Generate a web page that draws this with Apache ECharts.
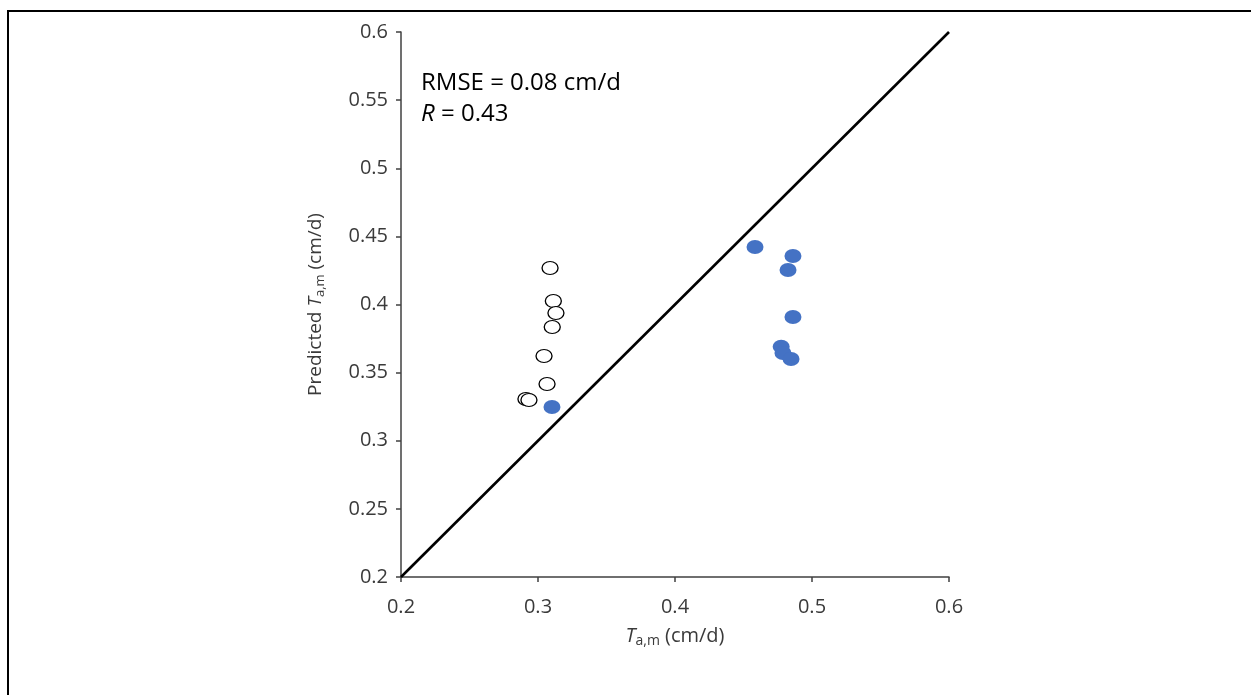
<!DOCTYPE html>
<html><head><meta charset="utf-8">
<script src="https://cdn.jsdelivr.net/npm/echarts@6/dist/echarts.min.js"></script>
<style>html,body{margin:0;padding:0;background:#fff}#c{width:1251px;height:695px}</style>
</head><body><div id="c"></div>
<script>
// Observed (open circles)
const openX = [0.3088, 0.3112, 0.3131, 0.3104, 0.3044, 0.3066, 0.2912, 0.2934];
const openY = [0.4268, 0.4026, 0.3938, 0.3835, 0.3622, 0.3416, 0.3306, 0.3299];
// Filled blue points
const fillX = [0.3102, 0.4584, 0.4861, 0.4825, 0.4861, 0.4775, 0.4788, 0.4847];
const fillY = [0.3248, 0.4422, 0.4356, 0.4253, 0.3908, 0.3690, 0.3644, 0.3600];
const lineXY = [[0.2, 0.2], [0.6, 0.6]];
const statsText = ['RMSE = 0.08 cm/d', '0.43'];

const FONT = 'Open Sans';
const chart = echarts.init(document.getElementById('c'), null, {renderer: 'canvas'});
const axisCol = '#404040';
const txtCol = '#3a3a3a';
function nameRich(fs) {
  return {
    it: {fontSize: fs, fontStyle: 'italic', color: txtCol, fontFamily: FONT},
    sub: {fontSize: Math.round(fs * 0.68), color: txtCol, fontFamily: FONT, verticalAlign: 'bottom', padding: [9, 0, 0, 0]},
    n: {fontSize: fs, color: txtCol, fontFamily: FONT}
  };
}
chart.setOption({
  animation: false,
  backgroundColor: '#fff',
  textStyle: {fontFamily: FONT},
  grid: {left: 401, top: 32, width: 548, height: 545, containLabel: false},
  xAxis: {
    type: 'value', min: 0.2, max: 0.6, interval: 0.1,
    splitLine: {show: false},
    axisLine: {lineStyle: {color: axisCol, width: 1.5}},
    axisTick: {show: true, length: 5, lineStyle: {color: axisCol, width: 1.5}},
    axisLabel: {fontSize: 20, color: txtCol, margin: 20, fontFamily: FONT},
    name: '{it|T}{sub|a,m}{n| (cm/d)}',
    nameLocation: 'middle', nameGap: 48,
    nameTextStyle: {rich: nameRich(20)}
  },
  yAxis: {
    type: 'value', min: 0.2, max: 0.6, interval: 0.05,
    splitLine: {show: false},
    axisLine: {lineStyle: {color: axisCol, width: 1.5}},
    axisTick: {show: true, length: 5, lineStyle: {color: axisCol, width: 1.5}},
    axisLabel: {fontSize: 20, color: txtCol, margin: 13, fontFamily: FONT},
    name: '{n|Predicted }{it|T}{sub|a,m}{n| (cm/d)}',
    nameLocation: 'middle', nameGap: 74, nameRotate: 90,
    nameTextStyle: {rich: nameRich(19)}
  },
  series: [
    {
      type: 'line', data: lineXY, symbol: 'none', z: 1,
      lineStyle: {color: '#000', width: 2.6}
    },
    {
      type: 'scatter', z: 3,
      data: openX.map((x, i) => [x, openY[i]]),
      symbol: 'circle', symbolSize: [16, 13],
      itemStyle: {color: '#fff', borderColor: '#000', borderWidth: 1.2, opacity: 1}
    },
    {
      type: 'scatter', z: 4,
      data: fillX.map((x, i) => [x, fillY[i]]),
      symbol: 'circle', symbolSize: [17, 14],
      itemStyle: {color: '#4472C4', borderWidth: 0, opacity: 1}
    }
  ],
  graphic: [
    {type: 'line', shape: {x1: 7, y1: 11, x2: 1251, y2: 11}, style: {stroke: '#000', lineWidth: 2}},
    {type: 'line', shape: {x1: 8, y1: 10, x2: 8, y2: 695}, style: {stroke: '#000', lineWidth: 2}},
    {
      type: 'text', left: 421, top: 71,
      style: {
        text: '{n|' + statsText[0] + '}\n{it|R}{n| = ' + statsText[1] + '}',
        rich: {
          n: {fontSize: 24, fill: '#000', fontFamily: FONT, lineHeight: 31},
          it: {fontSize: 24, fill: '#000', fontFamily: FONT, fontStyle: 'italic', lineHeight: 31}
        }
      }
    }
  ]
});
</script></body></html>
